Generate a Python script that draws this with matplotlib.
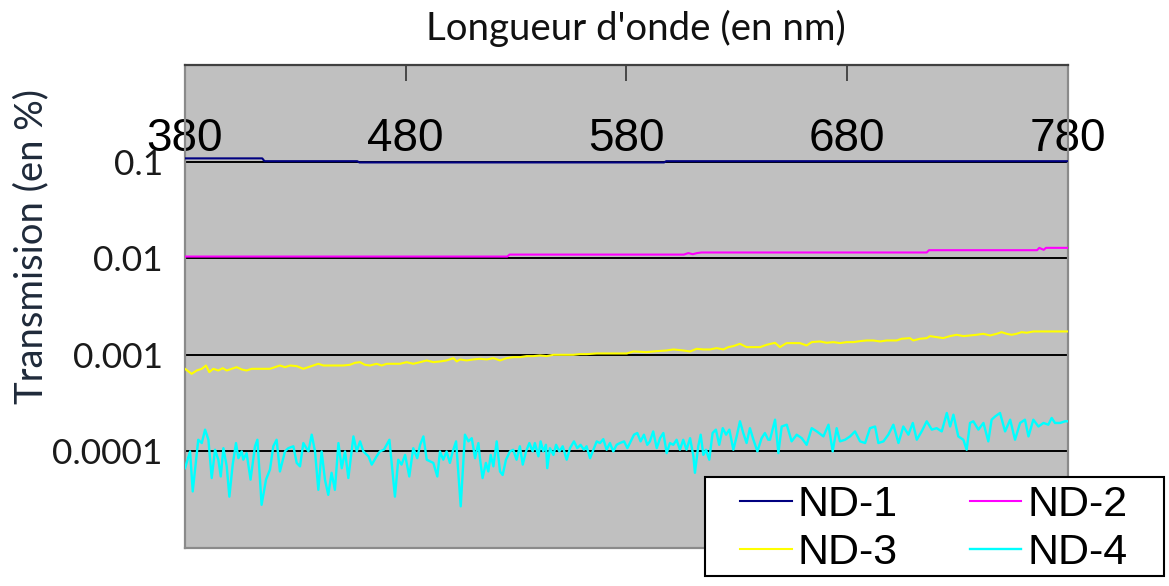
import matplotlib
matplotlib.use("Agg")
import matplotlib.pyplot as plt
from matplotlib.patches import Rectangle
from matplotlib.ticker import NullLocator
import numpy as np

# ---------------- data ----------------
wl1 = [380, 415, 416, 458, 459, 597, 598, 780]
nd1 = [0.108, 0.108, 0.101, 0.101, 0.098, 0.098, 0.101, 0.101]

wl2 = [380, 526, 527, 606, 608, 610, 612, 614, 716, 717, 766, 767, 769, 770, 780]
nd2 = [0.0104, 0.0104, 0.0109, 0.0109, 0.0113, 0.0110, 0.0113, 0.01146, 0.01146,
       0.0121, 0.0121, 0.0128, 0.0122, 0.0128, 0.0128]

wl3 = [380.0, 383.0, 385.3, 387.6, 389.5, 391.0, 392.8, 395.1, 397.1, 398.9,
       401.1, 403.4, 405.7, 407.9, 410.2, 412.5, 415.5, 418.5, 420.8, 423.0,
       425.3, 427.6, 430.6, 433.6, 435.9, 438.1, 440.4, 442.7, 445.7, 448.7,
       451.7, 454.7, 457.0, 459.3, 461.5, 463.8, 466.8, 469.1, 471.4, 474.4,
       477.4, 480.4, 483.4, 486.5, 489.5, 492.5, 495.5, 498.5, 501.6, 503.1,
       504.6, 507.6, 510.6, 513.6, 516.7, 519.7, 522.7, 525.7, 528.7, 531.8,
       534.8, 537.8, 540.8, 543.8, 546.9, 549.9, 552.9, 555.9, 558.9, 562.0,
       566.5, 571.0, 574.0, 580.1, 583.1, 589.1, 593.7, 598.2, 601.2, 605.7,
       608.8, 611.8, 614.8, 617.8, 620.8, 623.9, 626.1, 628.4, 631.4, 634.4,
       637.5, 640.5, 643.5, 647.3, 649.5, 652.5, 658.6, 661.6, 663.9, 667.6,
       670.7, 673.7, 676.7, 679.7, 682.8, 685.8, 688.8, 691.8, 694.8, 697.9,
       702.4, 704.6, 708.4, 709.9, 712.9, 716.0, 717.5, 720.5, 723.5, 726.5,
       729.6, 732.6, 735.6, 738.6, 741.6, 744.7, 747.7, 749.9, 752.2, 754.5,
       756.7, 759.0, 761.3, 764.3, 770.3, 780.0]
nd3_e3 = [0.716, 0.635, 0.688, 0.716, 0.775, 0.661, 0.716, 0.688, 0.727, 0.688,
          0.716, 0.745, 0.705, 0.688, 0.716, 0.716, 0.716, 0.716, 0.745, 0.775,
          0.745, 0.775, 0.763, 0.716, 0.745, 0.775, 0.807, 0.775, 0.775, 0.775,
          0.775, 0.788, 0.826, 0.839, 0.788, 0.775, 0.807, 0.775, 0.807, 0.807,
          0.807, 0.839, 0.807, 0.839, 0.874, 0.839, 0.853, 0.874, 0.924, 0.853,
          0.895, 0.874, 0.895, 0.909, 0.895, 0.924, 0.874, 0.924, 0.946, 0.946,
          0.969, 0.969, 0.984, 0.969, 1.0, 1.0, 1.0, 1.0, 1.016, 1.016,
          1.032, 1.032, 1.032, 1.032, 1.083, 1.066, 1.091, 1.109, 1.136, 1.109,
          1.083, 1.154, 1.136, 1.136, 1.172, 1.136, 1.201, 1.230, 1.300, 1.201,
          1.201, 1.201, 1.269, 1.331, 1.201, 1.321, 1.321, 1.249, 1.353, 1.375,
          1.331, 1.353, 1.321, 1.353, 1.353, 1.385, 1.407, 1.407, 1.375, 1.407,
          1.407, 1.465, 1.488, 1.407, 1.465, 1.488, 1.561, 1.524, 1.488, 1.561,
          1.611, 1.561, 1.586, 1.611, 1.650, 1.586, 1.650, 1.717, 1.650, 1.611,
          1.650, 1.717, 1.690, 1.745, 1.745, 1.745]

wl4 = [380.0, 382.3, 383.5, 386.0, 387.6, 389.1, 390.6, 392.1, 393.6, 395.1,
       396.2, 397.4, 398.9, 400.1, 401.6, 403.1, 404.2, 405.7, 406.4, 407.9,
       409.7, 411.7, 412.8, 414.7, 416.7, 418.5, 420.0, 421.5, 423.0, 425.3,
       426.8, 429.1, 430.6, 432.1, 433.6, 435.9, 437.4, 438.9, 440.4, 441.9,
       443.4, 444.9, 446.4, 447.9, 449.5, 451.0, 452.5, 454.0, 456.3, 457.8,
       459.3, 460.8, 463.1, 464.6, 466.8, 468.3, 470.1, 472.6, 475.1, 476.6,
       478.1, 479.7, 481.6, 483.4, 485.2, 486.5, 488.0, 489.5, 492.5, 494.3,
       495.5, 497.0, 498.5, 500.0, 501.3, 502.8, 504.9, 506.8, 508.4, 509.9,
       511.4, 512.9, 513.6, 514.8, 516.3, 517.4, 518.5, 519.7, 521.2, 522.7,
       523.9, 525.4, 527.2, 528.7, 530.2, 531.7, 533.0, 534.5, 536.0, 537.5,
       538.5, 540.1, 541.1, 542.3, 543.5, 544.1, 545.3, 546.9, 548.1, 549.6,
       551.1, 552.9, 554.4, 556.2, 557.7, 559.2, 560.7, 561.9, 563.5, 565.3,
       566.5, 568.0, 569.5, 571.0, 572.5, 574.0, 575.5, 577.0, 578.9, 580.4,
       581.9, 583.4, 584.9, 586.4, 587.9, 589.4, 590.6, 592.1, 593.7, 595.2,
       596.7, 598.2, 599.7, 601.2, 602.7, 604.2, 605.7, 607.2, 608.8, 610.3,
       611.0, 612.5, 613.6, 614.8, 616.0, 617.5, 619.0, 620.5, 622.0, 623.6,
       625.1, 626.6, 628.4, 629.9, 631.4, 632.9, 634.4, 635.9, 637.5, 639.3,
       641.2, 642.7, 644.2, 645.0, 647.3, 648.8, 650.3, 652.6, 654.8, 657.1,
       659.4, 661.6, 663.9, 666.2, 669.2, 671.5, 673.4, 675.2, 676.7, 679.0,
       681.3, 683.5, 685.8, 688.1, 690.3, 692.6, 694.1, 696.4, 698.6, 700.9,
       703.2, 705.4, 707.7, 709.7, 711.5, 713.7, 716.0, 718.3, 720.5, 722.8,
       725.1, 726.6, 728.1, 730.3, 732.6, 734.1, 735.6, 737.1, 739.4, 741.7,
       743.9, 745.4, 747.0, 749.2, 751.5, 753.8, 756.0, 758.3, 760.5, 762.1,
       764.3, 766.6, 768.9, 771.1, 772.6, 774.1, 776.4, 778.7, 780.0]
nd4_e4 = [0.67, 1.0, 0.385, 1.32, 1.22, 1.68, 1.32, 0.53, 1.04, 0.82,
          0.55, 1.08, 0.70, 0.34, 0.73, 1.22, 0.85, 1.0, 0.82, 0.96,
          0.51, 1.13, 1.32, 0.28, 0.51, 0.65, 1.13, 1.32, 0.62, 1.0,
          1.08, 1.13, 0.76, 0.70, 1.22, 1.0, 1.49, 1.0, 0.40, 1.0,
          0.51, 0.355, 0.60, 0.40, 1.22, 0.67, 1.0, 0.53, 1.43, 1.0,
          1.27, 1.0, 0.89, 0.73, 0.89, 1.0, 1.04, 1.32, 0.34, 0.82,
          0.73, 0.92, 0.55, 1.08, 0.85, 1.17, 1.43, 0.82, 0.76, 0.55,
          1.0, 0.82, 1.0, 0.76, 1.0, 1.27, 0.27, 1.49, 1.27, 1.37,
          0.85, 1.22, 0.85, 0.53, 0.76, 0.62, 0.92, 0.70, 1.27, 0.62,
          0.57, 0.82, 1.0, 1.04, 0.82, 1.13, 0.73, 1.0, 1.22, 1.0,
          1.22, 0.89, 1.27, 1.0, 1.17, 0.67, 1.08, 0.92, 1.17, 1.0,
          1.13, 0.82, 1.08, 1.27, 1.08, 1.17, 1.04, 1.13, 0.85, 1.08,
          1.27, 1.22, 1.34, 1.04, 1.22, 1.0, 1.17, 1.22, 1.27, 1.08,
          1.27, 1.49, 1.55, 1.27, 1.49, 1.17, 1.27, 1.61, 1.08, 1.37,
          1.55, 0.96, 1.22, 1.17, 1.32, 1.04, 1.32, 1.04, 1.37, 0.89,
          0.60, 1.13, 1.49, 0.92, 1.04, 0.82, 1.55, 1.68, 1.17, 1.74,
          1.49, 1.68, 1.04, 1.43, 2.05, 1.55, 1.22, 1.74, 1.32, 1.0,
          1.37, 1.55, 1.32, 1.32, 2.13, 0.96, 1.81, 1.89, 1.27, 1.49,
          1.37, 1.17, 1.74, 1.61, 1.43, 1.89, 1.0, 1.74, 1.27, 1.32,
          1.43, 1.61, 1.27, 1.22, 1.74, 1.81, 1.22, 1.27, 1.49, 1.89,
          1.22, 1.81, 1.49, 1.97, 1.32, 1.61, 2.05, 1.68, 1.74, 1.61,
          2.50, 1.81, 2.40, 1.43, 1.32, 1.04, 1.97, 2.05, 1.68, 1.97,
          1.27, 2.13, 2.30, 2.50, 1.61, 2.13, 1.32, 1.97, 2.13, 1.43,
          2.13, 1.81, 1.97, 1.89, 2.22, 1.97, 1.97, 2.05, 2.05]

series_names = ["ND-1", "ND-2", "ND-3", "ND-4"]
series_colors = ["#000080", "#FF00FF", "#FFFF00", "#00FFFF"]
xticks = [380, 480, 580, 680, 780]
yticks = [0.0001, 0.001, 0.01, 0.1]
ytick_labels = ["0.0001", "0.001", "0.01", "0.1"]

nd3 = np.array(nd3_e3) * 1e-3
nd4 = np.array(nd4_e4) * 1e-4

# ---------------- figure ----------------
W, H = 1169, 586
fig = plt.figure(figsize=(W / 100, H / 100), dpi=100)
fig.patch.set_facecolor("white")
ax = fig.add_axes([185 / W, 1 - 548 / H, (1068 - 185) / W, (548 - 65) / H])
ax.set_facecolor("#C0C0C0")

lw = 1.5
l1, = ax.plot(wl1, nd1, color=series_colors[0], lw=lw, label=series_names[0], zorder=3)
l2, = ax.plot(wl2, nd2, color=series_colors[1], lw=lw, label=series_names[1], zorder=3)
l3, = ax.plot(wl3, nd3, color=series_colors[2], lw=lw, label=series_names[2], zorder=3)
l4, = ax.plot(wl4, nd4, color=series_colors[3], lw=1.7, label=series_names[3], zorder=3)

ax.set_yscale("log")
ax.set_xlim(380, 780)
ax.set_ylim(1e-5, 1)
ax.set_yticks(yticks, ytick_labels)
ax.yaxis.set_minor_locator(NullLocator())
ax.set_xticks(xticks)
ax.xaxis.set_minor_locator(NullLocator())

ax.yaxis.grid(True, color="black", lw=1.4, zorder=1)
ax.set_axisbelow(True)

ax.tick_params(axis="y", length=0, pad=16, labelsize=25.5, labelcolor="#1a1a1a")
for t in ax.get_yticklabels():
    t.set_fontfamily("Lato")
ax.tick_params(axis="x", bottom=False, labelbottom=False, top=True, labeltop=True,
               direction="in", length=11.5, width=1.2, color="#333333",
               pad=-69, labelsize=33)
for t in ax.get_xticklabels():
    t.set_fontfamily("Liberation Sans")

for side in ["left", "right", "bottom"]:
    ax.spines[side].set_color("#8a8a8a")
    ax.spines[side].set_linewidth(1.6)
ax.spines["top"].set_color("#404040")
ax.spines["top"].set_linewidth(1.6)

fig.text(636 / W, 1 - 28 / H, "Longueur d'onde (en nm)", ha="center", va="center",
         fontsize=27.6, family="Lato", color="#111111")
fig.text(31 / W, 1 - 246 / H, "Transmision (en %)", ha="center", va="center",
         rotation=90, fontsize=27.5, family="Lato", color="#1f2a3a")

# legend
box = Rectangle((705 / W, 1 - 576 / H), (1164 - 705) / W, (576 - 477) / H,
                transform=fig.transFigure, facecolor="white", edgecolor="black",
                lw=1.5, zorder=4)
fig.add_artist(box)
leg = fig.legend([l1, l3, l2, l4],
                 [series_names[0], series_names[2], series_names[1], series_names[3]],
                 ncol=2, loc="upper left",
                 bbox_to_anchor=(740 / W, 1 - 485 / H), frameon=False,
                 borderpad=0, borderaxespad=0, handlelength=1.2, handletextpad=0.14,
                 columnspacing=1.67, labelspacing=0.18,
                 prop={"family": "Liberation Sans", "size": 31})
leg.set_zorder(5)

fig.savefig("out.png", dpi=100)
